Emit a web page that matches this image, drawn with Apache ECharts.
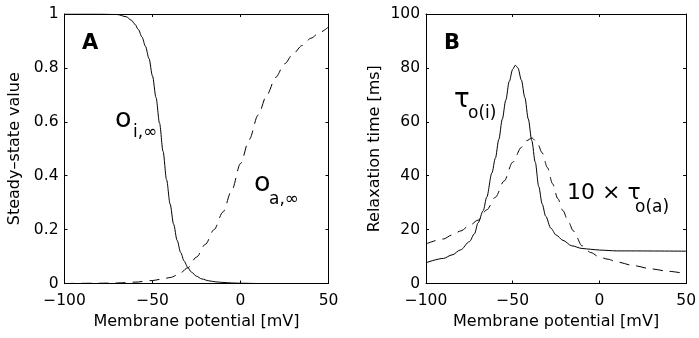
<!DOCTYPE html>
<html>
<head>
<meta charset="utf-8">
<script src="https://cdn.jsdelivr.net/npm/echarts@6/dist/echarts.min.js"></script>
<style>
  html, body { margin: 0; padding: 0; background: #fff; }
  #chart { width: 699px; height: 338px; }
</style>
</head>
<body>
<div id="chart"></div>
<script>
// panel A: steady-state values
const vOi = [-100, -80, -70, -65, -62, -60, -58, -56, -54, -52, -50, -48, -46, -44, -42, -40, -38, -36, -34, -32, -30, -28, -25, -22, -18, -14, -10, -5, 0, 10, 50];
const oI = [1, 1, 0.998, 0.99, 0.977, 0.962, 0.942, 0.915, 0.88, 0.835, 0.77, 0.69, 0.595, 0.49, 0.385, 0.295, 0.22, 0.16, 0.115, 0.083, 0.06, 0.043, 0.027, 0.017, 0.01, 0.006, 0.004, 0.002, 0.001, 0, 0];
const vOa = [-100, -80, -70, -60, -50, -45, -40, -35, -30, -25, -20, -15, -10, -5, 0, 5, 10, 15, 20, 25, 30, 35, 40, 45, 50];
const oA = [0, 0.001, 0.002, 0.005, 0.011, 0.016, 0.022, 0.034, 0.058, 0.098, 0.145, 0.2, 0.265, 0.345, 0.445, 0.535, 0.625, 0.7, 0.765, 0.815, 0.853, 0.883, 0.91, 0.932, 0.952];

// panel B: relaxation times
const vTi = [-100, -90, -85, -80, -75, -72, -70, -67, -65, -62, -60, -58, -56, -54, -52, -50, -48.5, -47, -45, -43, -41, -39, -37, -35, -33, -31, -28, -25, -21, -16, -10, -5, 0, 10, 50];
const tauI = [7.7, 9.3, 10.6, 12.5, 15.5, 18.5, 22.5, 27, 32, 41, 46.5, 53.5, 61, 68, 75, 79.5, 81, 80, 75.5, 69, 61, 53, 45, 36, 29.5, 25, 20.5, 18, 16, 14, 13, 12.7, 12.4, 12.1, 12];
const vTa = [-100, -90, -85, -80, -75, -70, -65, -60, -55, -50, -45, -42, -39, -36, -33, -30, -27, -24, -21, -18, -15, -10, -5, 0, 5, 10, 20, 30, 40, 50];
const tauA = [14.7, 16.5, 18, 19.5, 21.5, 23.5, 27.3, 32, 38, 45, 50.5, 53, 54, 52.5, 48.5, 43, 37, 31.5, 27, 23, 19.5, 14, 11.5, 9.8, 9, 8, 6.6, 5.4, 4.5, 3.6];

const xTicks = [-100, -50, 0, 50];
const yTicksA = [0, 0.2, 0.4, 0.6, 0.8, 1];
const yTicksB = [0, 20, 40, 60, 80, 100];

const zip = (xs, ys) => xs.map((x, i) => [x, ys[i]]);

const FONT = "'DejaVu Sans', sans-serif";
const black = "#000";

function xAxis(grid, top) {
  return {
    type: "value", gridIndex: grid, position: top ? "top" : "bottom",
    min: xTicks[0], max: xTicks[xTicks.length - 1], interval: 50,
    name: top ? "" : "Membrane potential [mV]",
    nameLocation: "middle", nameGap: 30,
    nameTextStyle: { fontFamily: FONT, fontSize: 16, color: black },
    axisLine: { show: true, onZero: false, lineStyle: { color: black, width: 1 } },
    axisTick: { show: true, inside: true, length: 3, lineStyle: { color: black } },
    axisLabel: {
      show: !top, fontFamily: FONT, fontSize: 15.5, color: black, margin: 9,
      formatter: (v) => String(v).replace("-", "\u2212"),
    },
    splitLine: { show: false },
  };
}

function yAxis(grid, right, ticks, name) {
  const step = ticks[1] - ticks[0];
  return {
    type: "value", gridIndex: grid, position: right ? "right" : "left",
    min: ticks[0], max: ticks[ticks.length - 1], interval: step,
    name: right ? "" : name,
    nameLocation: "middle", nameGap: grid === 0 ? 41.5 : 43,
    nameTextStyle: { fontFamily: FONT, fontSize: 16, color: black },
    axisLine: { show: true, onZero: false, lineStyle: { color: black, width: 1 } },
    axisTick: { show: true, inside: true, length: 3, lineStyle: { color: black } },
    axisLabel: { show: !right, fontFamily: FONT, fontSize: 15.5, color: black, margin: 6 },
    splitLine: { show: false },
  };
}

function curve(xi, yi, data, dashed) {
  return {
    type: "line", xAxisIndex: xi, yAxisIndex: yi, data: data,
    showSymbol: false, symbol: "none", smooth: 0.3, smoothMonotone: "x",
    lineStyle: { color: black, width: 1, type: dashed ? [10, 7] : "solid" },
    silent: true, animation: false,
  };
}

function label(x, y, text, size, bold) {
  return {
    type: "text", x: x, y: y, silent: true,
    style: {
      text: text, fill: black, align: "left", verticalAlign: "middle",
      font: (bold ? "bold " : "") + size + "px " + FONT,
    },
  };
}

const chart = echarts.init(document.getElementById("chart"));
chart.setOption({
  animation: false,
  backgroundColor: "#fff",
  grid: [
    { left: 64.5, right: 370.5, top: 14, bottom: 54.5, containLabel: false },
    { left: 426, right: 9, top: 14, bottom: 54.5, containLabel: false },
  ],
  xAxis: [xAxis(0, false), xAxis(1, false), xAxis(0, true), xAxis(1, true)],
  yAxis: [
    yAxis(0, false, yTicksA, "Steady\u2013state value"),
    yAxis(1, false, yTicksB, "Relaxation time [ms]"),
    yAxis(0, true, yTicksA, ""),
    yAxis(1, true, yTicksB, ""),
  ],
  series: [
    curve(0, 0, zip(vOi, oI), false),
    curve(0, 0, zip(vOa, oA), true),
    curve(1, 1, zip(vTi, tauI), false),
    curve(1, 1, zip(vTa, tauA), true),
  ],
  graphic: [
    label(82, 44, "A", 21, true),
    label(444, 44, "B", 21, true),
    label(115, 120, "o", 27),
    label(133, 133, "i,\u221e", 17),
    label(254, 184, "o", 27),
    label(269, 200, "a,\u221e", 17),
    label(454, 100, "\u03c4", 26),
    label(468, 114, "o(i)", 17),
    label(567, 193, "10 \u00d7 \u03c4", 22),
    label(635, 208, "o(a)", 17),
  ],
});
</script>
</body>
</html>
